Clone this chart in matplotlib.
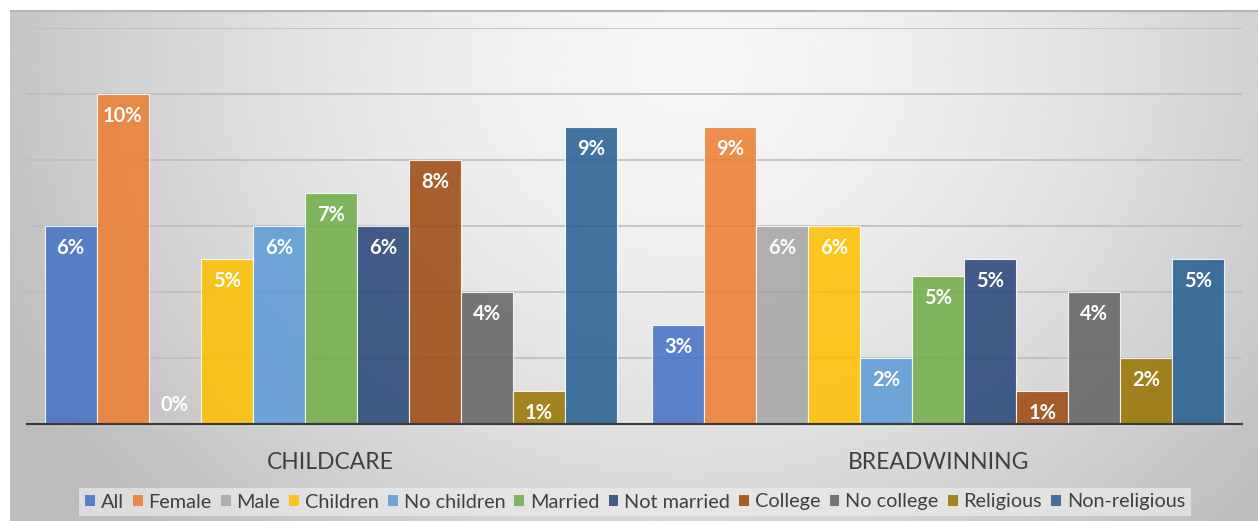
import numpy as np
import matplotlib
matplotlib.use("Agg")
import matplotlib.pyplot as plt
from matplotlib.patches import Patch

plt.rcParams['font.family'] = ['Lato', 'DejaVu Sans']

groups = ["CHILDCARE", "BREADWINNING"]
series = ["All", "Female", "Male", "Children", "No children", "Married",
          "Not married", "College", "No college", "Religious", "Non-religious"]
childcare = [6, 10, 0, 5, 6, 7, 6, 8, 4, 1, 9]
breadwinning = [3, 9, 6, 6, 2, 4.5, 5, 1, 4, 2, 5]
colors = ["#4472C4", "#ED7D31", "#A5A5A5", "#FFC000", "#5B9BD5", "#70AD47",
          "#264478", "#9E480E", "#636363", "#997300", "#255E91"]

W, H = 1258, 521
fig = plt.figure(figsize=(W / 100, H / 100), dpi=100)
fig.patch.set_facecolor("white")

# soft radial background panel
bg = fig.add_axes([10 / W, 0, (W - 10) / W, (H - 10) / H])
bg.set_axis_off()
ny, nx = 260, 620
yy, xx = np.mgrid[0:ny, 0:nx]
px = 10 + xx / (nx - 1) * (W - 10)
py = 10 + yy / (ny - 1) * (H - 10)
r = np.sqrt(((px - 690) / 700) ** 2 + ((py - 60) / 620) ** 2)
val = np.clip(0.965 - 0.20 * r ** 1.6, 0.74, 1.0)
bg.imshow(val, cmap="gray", vmin=0, vmax=1, aspect="auto",
          extent=[0, 1, 0, 1], origin="upper")
bg.set_xlim(0, 1)
bg.set_ylim(0, 1)
bg.plot([0, 1], [0.999, 0.999], color="#b4b4b4", lw=1.5)

# main plotting axes
left, right = 27 / W, 1242 / W
bottom, top = (H - 424) / H, (H - 28) / H
ax = fig.add_axes([left, bottom, right - left, top - bottom])
ax.patch.set_alpha(0)

values = np.array([childcare, breadwinning])
n = len(series)
group_w = 0.942
bw = group_w / n
x = np.arange(len(groups))

for i in range(n):
    xs = x - group_w / 2 + bw * (i + 0.5)
    ax.bar(xs, values[:, i], width=bw, color=colors[i], alpha=0.86,
           edgecolor=(1, 1, 1, 0.6), linewidth=0.8, zorder=3,
           label=series[i])
    for xb, v in zip(xs, values[:, i]):
        txt = f"{int(v + 0.5)}%"
        dy = -16 if v > 0 else 14
        ax.annotate(txt, (xb, v), xytext=(0, dy), textcoords="offset points",
                    ha="center", va="center", color="white",
                    fontsize=14.5, fontweight="bold", zorder=5)

ax.set_xlim(-0.5, 1.5)
ax.set_ylim(0, 12)
ax.set_yticks(np.arange(2, 13, 2))
ax.yaxis.grid(True, color="#bdbdbd", lw=1.2, zorder=1)
ax.tick_params(left=False, labelleft=False, bottom=False)
for s in ["left", "right", "top"]:
    ax.spines[s].set_visible(False)
ax.spines["bottom"].set_color("#3a3a3a")
ax.spines["bottom"].set_linewidth(1.5)
ax.spines["bottom"].set_zorder(4)
ax.set_xticks(x)
ax.set_xticklabels(groups, fontsize=16.5, color="#404040")
ax.tick_params(axis="x", pad=17)

handles = [Patch(facecolor=c, alpha=0.86, edgecolor="none") for c in colors]
leg = fig.legend(handles, series, loc="center", bbox_to_anchor=(635 / W, 1 - 502 / H),
                 ncol=n, frameon=True, fontsize=14.3, handlelength=0.5,
                 handleheight=0.5, handletextpad=0.3, columnspacing=0.45,
                 borderpad=0.3, labelcolor="#404040")
leg.get_frame().set_facecolor("#ebebeb")
leg.get_frame().set_alpha(0.7)
leg.get_frame().set_edgecolor("none")
leg.get_frame().set_boxstyle("square", pad=0)

fig.savefig("out.png", dpi=100)
